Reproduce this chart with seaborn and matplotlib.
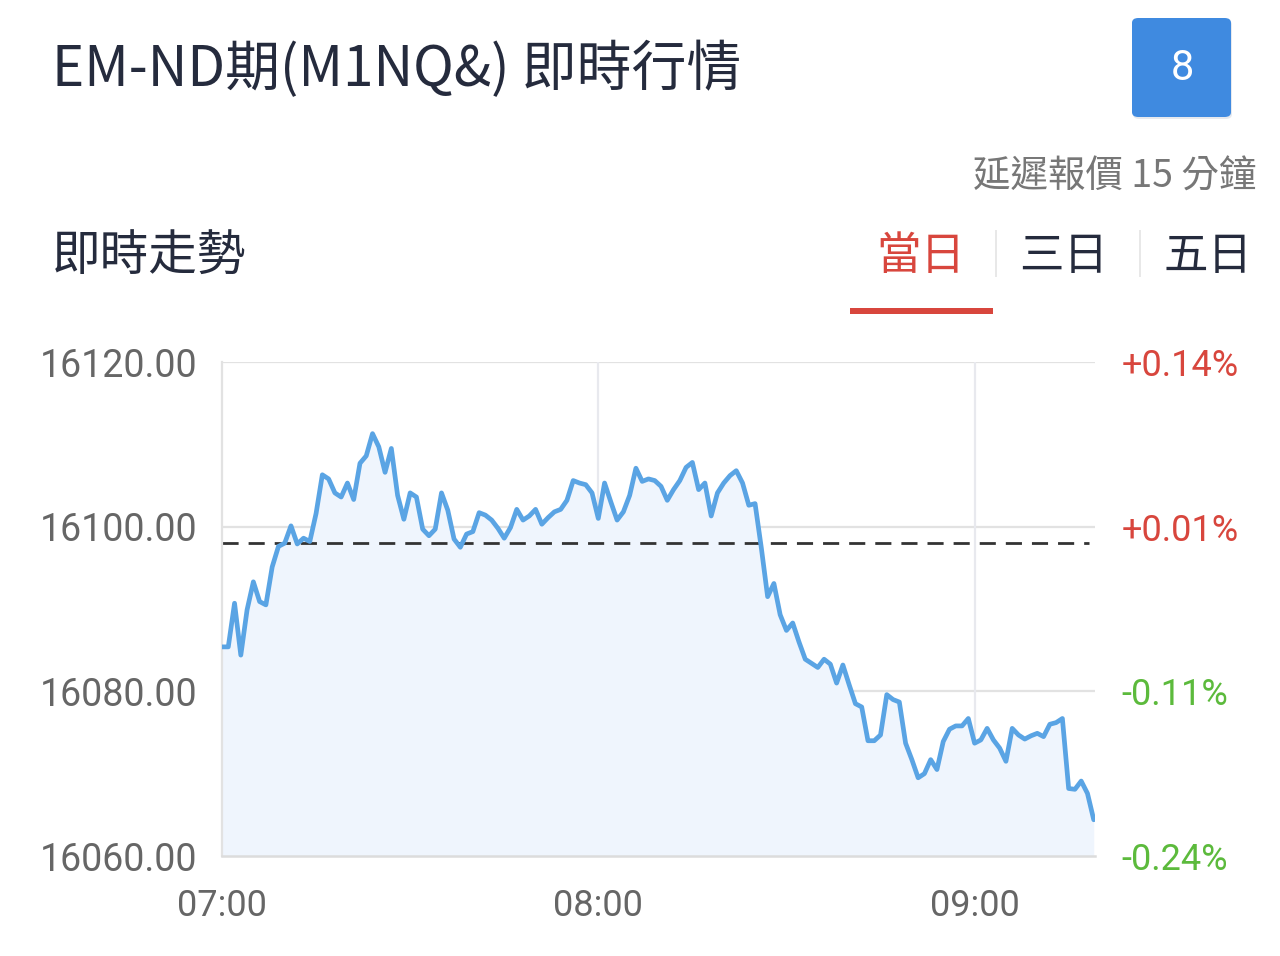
import numpy as np
import pandas as pd
import matplotlib.pyplot as plt
import seaborn as sns
from matplotlib.patches import FancyBboxPatch, Rectangle
from matplotlib.transforms import blended_transform_factory

# minute-by-minute prices from 07:00
prices = [
    16085.4, 16085.4, 16090.7, 16084.4, 16089.9, 16093.3, 16090.9, 16090.5, 16095.1, 16097.6,
    16098.0, 16100.1, 16097.9, 16098.6, 16098.2, 16101.6, 16106.3, 16105.8, 16104.1, 16103.6,
    16105.3, 16103.3, 16107.7, 16108.6, 16111.3, 16109.7, 16106.6, 16109.5, 16103.8, 16100.9,
    16104.1, 16103.6, 16099.7, 16098.9, 16099.7, 16104.1, 16102.0, 16098.5, 16097.5, 16099.1,
    16099.4, 16101.7, 16101.4, 16100.8, 16099.8, 16098.6, 16099.9, 16102.1, 16100.8, 16101.3,
    16102.1, 16100.3, 16101.1, 16101.8, 16102.1, 16103.2, 16105.6, 16105.3, 16105.1, 16104.1,
    16101.0, 16105.3, 16103.0, 16100.8, 16101.8, 16103.8, 16107.1, 16105.5, 16105.8, 16105.6,
    16104.9, 16103.2, 16104.5, 16105.6, 16107.2, 16107.8, 16104.5, 16105.3, 16101.3, 16104.1,
    16105.3, 16106.2, 16106.8, 16105.3, 16102.6, 16102.8, 16097.4, 16091.5, 16093.1, 16089.3,
    16087.4, 16088.3, 16086.0, 16083.9, 16083.4, 16082.9, 16083.9, 16083.3, 16081.0, 16083.2,
    16080.8, 16078.5, 16078.1, 16074.0, 16074.0, 16074.7, 16079.6, 16079.0, 16078.7, 16073.7,
    16071.7, 16069.5, 16070.0, 16071.7, 16070.5, 16073.9, 16075.4, 16075.8, 16075.8, 16076.7,
    16073.7, 16074.1, 16075.5, 16074.1, 16073.1, 16071.5, 16075.5, 16074.7, 16074.2, 16074.6,
    16074.9, 16074.5, 16076.0, 16076.2, 16076.7, 16068.2, 16068.1, 16069.1, 16067.6, 16064.4,
]
minutes = list(range(len(prices)))
ref_price = 16098.0

y_ticks = [16060, 16080, 16100, 16120]
pct_labels = ['-0.24%', '-0.11%', '+0.01%', '+0.14%']
x_ticks = [0, 60, 120]
x_labels = ['07:00', '08:00', '09:00']
tabs = ['當日', '三日', '五日']

df = pd.DataFrame({'minute': minutes, 'price': prices})

sns.set_theme(style='white')
plt.rcParams['font.family'] = ['Roboto', 'Noto Sans CJK TC', 'DejaVu Sans']

fig = plt.figure(figsize=(12.8, 9.56), dpi=100)
W, H = 1280, 956
ax = fig.add_axes([222 / W, 1 - 856 / H, (1095 - 222) / W, (856 - 362) / H])

line_color = '#5aa4e4'
ax.fill_between(df['minute'], df['price'], 16060, color='#eff5fd', zorder=1, lw=0)
sns.lineplot(data=df, x='minute', y='price', ax=ax, color=line_color, lw=3.4, zorder=3)
ax.axhline(ref_price, xmax=0.993, color='#333333', lw=2, ls=(0, (5.8, 3.6)), zorder=2)

ax.set_xlim(0, 139.2)
ax.set_ylim(16060, 16120)
ax.set_yticks(y_ticks)
ax.set_yticklabels([f'{v:.2f}' for v in y_ticks])
ax.set_xticks(x_ticks)
ax.set_xticklabels(x_labels)
ax.set_xlabel('')
ax.set_ylabel('')

for v in y_ticks[1:]:
    ax.axhline(v, color='#e2e2e2', lw=1.6, zorder=0.5)
for m in x_ticks[1:]:
    ax.axvline(m, color='#e8e9ee', lw=1.6, zorder=0.5)

for s in ['top', 'right']:
    ax.spines[s].set_visible(False)
ax.spines['left'].set_color('#e2e2e2')
ax.spines['left'].set_linewidth(1.6)
ax.spines['bottom'].set_color('#dcdcdc')
ax.spines['bottom'].set_linewidth(1.8)

ax.tick_params(axis='y', length=0, pad=18, labelsize=27, labelcolor='#666666')
ax.tick_params(axis='x', length=6, width=1.6, color='#dcdcdc', pad=17,
               labelsize=26, labelcolor='#666666')

trans = blended_transform_factory(ax.transAxes, ax.transData)
for v, lab in zip(y_ticks, pct_labels):
    col = '#d8463d' if lab.startswith('+') else '#5cba3c'
    ax.text(1.03, v, lab, transform=trans, ha='left', va='center_baseline',
            fontsize=26, color=col)

# header
fig.text(52 / W, 1 - 86 / H, 'EM-ND期(M1NQ&) 即時行情', ha='left', va='baseline',
         fontsize=39.5, color='#252b3d', family=['Noto Sans CJK TC'])
fig.text(1256 / W, 1 - 177 / H, '延遲報價 15 分鐘', ha='right', va='center',
         fontsize=27, color='#777777', family=['Noto Sans CJK TC'])
fig.text(52 / W, 1 - 257 / H, '即時走勢', ha='left', va='center',
         fontsize=35, color='#252b3d', family=['Noto Sans CJK TC'])

tab_x = [921, 1064, 1208]
for tx, t, c in zip(tab_x, tabs, ['#d8463d', '#252b3d', '#252b3d']):
    fig.text(tx / W, 1 - 256 / H, t, ha='center', va='center',
             fontsize=32, color=c, family=['Noto Sans CJK TC'])
for sx in [995, 1139]:
    fig.add_artist(Rectangle((sx / W, 1 - 277 / H), 2 / W, 47 / H,
                             transform=fig.transFigure, color='#e8e8e8', lw=0))
fig.add_artist(Rectangle((850 / W, 1 - 314 / H), 143 / W, 6 / H,
                         transform=fig.transFigure, color='#d8463d', lw=0))

# button
fig.add_artist(FancyBboxPatch((1133 / W, 1 - 119 / H), 99 / W, 99 / H,
                              boxstyle='round,pad=0,rounding_size=0.005',
                              transform=fig.transFigure, color='#e6e9ee', lw=0))
fig.add_artist(FancyBboxPatch((1132 / W, 1 - 117 / H), 99 / W, 99 / H,
                              boxstyle='round,pad=0,rounding_size=0.005',
                              transform=fig.transFigure, color='#3f8ae0', lw=0))
fig.text(1182 / W, 1 - 68 / H, '8', ha='center', va='center',
         fontsize=30, color='white')

fig.savefig('out.png', dpi=100, facecolor='white')
